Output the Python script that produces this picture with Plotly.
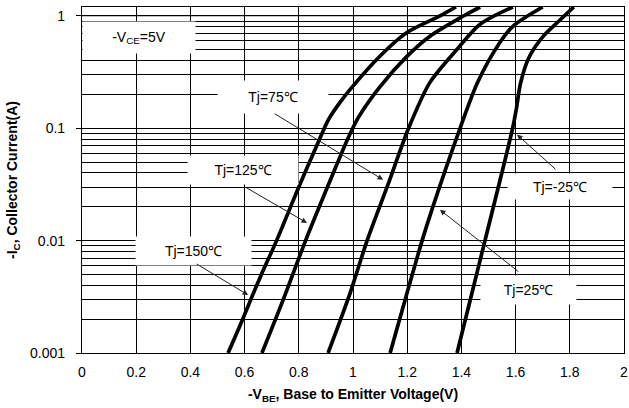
import plotly.graph_objects as go
import math

# Data (V_BE in volts, I_C in amperes)
v_150 = [0.539, 0.593, 0.623, 0.662, 0.718, 0.800, 0.866, 0.910, 0.952, 0.995, 1.100, 1.199, 1.321, 1.380]
i_150 = [0.001, 0.002, 0.003, 0.005, 0.010, 0.030, 0.070, 0.120, 0.170, 0.230, 0.440, 0.711, 1.000, 1.200]

v_125 = [0.664, 0.743, 0.825, 0.912, 0.980, 1.020, 1.100, 1.199, 1.284, 1.406, 1.469]
i_125 = [0.001, 0.003, 0.010, 0.0326, 0.080, 0.125, 0.235, 0.436, 0.659, 0.993, 1.200]

v_75 = [0.908, 0.989, 1.052, 1.130, 1.205, 1.284, 1.384, 1.469, 1.590]
i_75 = [0.001, 0.0034, 0.010, 0.032, 0.100, 0.256, 0.505, 0.843, 1.200]

v_25 = [1.137, 1.196, 1.255, 1.291, 1.395, 1.460, 1.542, 1.592, 1.700]
i_25 = [0.001, 0.0032, 0.010, 0.0188, 0.100, 0.257, 0.580, 0.815, 1.200]

v_m25 = [1.384, 1.436, 1.487, 1.589, 1.603, 1.618, 1.648, 1.700, 1.760, 1.815]
i_m25 = [0.001, 0.0032, 0.010, 0.100, 0.150, 0.250, 0.420, 0.650, 0.900, 1.200]

x_ticks = [0, 0.2, 0.4, 0.6, 0.8, 1.0, 1.2, 1.4, 1.6, 1.8, 2.0]
y_tickvals = [0.001, 0.01, 0.1, 1]
y_ticktext = ["0.001", "0.01", "0.1", "1"]

FONT = "Arial, Liberation Sans, sans-serif"

fig = go.Figure()
for vv, ii in [(v_150, i_150), (v_125, i_125), (v_75, i_75), (v_25, i_25), (v_m25, i_m25)]:
    fig.add_trace(go.Scatter(x=vv, y=ii, mode="lines",
                             line=dict(color="black", width=3.7, shape="spline", smoothing=0.8),
                             showlegend=False, hoverinfo="skip", cliponaxis=True))

fig.update_layout(
    width=629, height=408,
    margin=dict(l=82, r=5, t=7, b=55, autoexpand=False),
    paper_bgcolor="white", plot_bgcolor="white",
    font=dict(family=FONT, size=14, color="black"),
    showlegend=False,
)
fig.update_xaxes(
    range=[0, 2], tickvals=x_ticks, showgrid=True, gridcolor="black", gridwidth=1.2,
    showline=True, mirror=True, linecolor="black", linewidth=1.2, zeroline=False,
    ticks="", ticklabelstandoff=6, tickfont=dict(size=14, color="black"), automargin=False,
    title=dict(text="<b>-V<sub>BE</sub>, Base to Emitter Voltage(V)</b>",
               font=dict(size=14, color="black"), standoff=10),
)
fig.update_yaxes(
    type="log", range=[-3, math.log10(1.2)], tickvals=y_tickvals, ticktext=y_ticktext,
    showgrid=True, gridcolor="black", gridwidth=1.2,
    minor=dict(dtick="D1", showgrid=True, gridcolor="black", gridwidth=1.2, ticks=""),
    showline=True, mirror=True, linecolor="black", linewidth=1.2, zeroline=False,
    ticks="outside", ticklen=5, tickcolor="black", ticklabelstandoff=8, automargin=False,
    tickfont=dict(size=14, color="black"),
    title=dict(text="<b>-I<sub>C</sub>, Collector Current(A)</b>",
               font=dict(size=14, color="black"), standoff=9),
)

fig.add_shape(type="line", xref="paper", x0=0, x1=1, yref="y", y0=1, y1=1,
              line=dict(color="#b0b0b0", width=1.5), layer="below")

labels = [
    ("-V<sub>CE</sub>=5V", 0.210, -0.190, 112, 31),
    ("Tj=75℃", 0.705, -0.726, 110, 32),
    ("Tj=125℃", 0.594, -1.369, 110, 28),
    ("Tj=150℃", 0.413, -2.092, 115, 28),
    ("Tj=25℃", 1.649, -2.440, 95, 28),
    ("Tj=-25℃", 1.764, -1.520, 104, 25),
]
for txt, x, y, w, h in labels:
    fig.add_annotation(x=x, y=y, xref="x", yref="y", text=txt, showarrow=False,
                       bgcolor="white", width=w, height=h, borderpad=0,
                       font=dict(size=14, color="black", family=FONT))

arrows = [
    (1.111, -1.458, -110, -67),
    (0.830, -1.842, -62, -36),
    (0.613, -2.484, -53, -32),
    (1.321, -1.726, 80, 63),
    (1.605, -1.056, 40, 36),
]
for x, y, ax, ay in arrows:
    fig.add_annotation(x=x, y=y, xref="x", yref="y", text="", showarrow=True,
                       ax=ax, ay=ay, axref="pixel", ayref="pixel",
                       arrowhead=2, arrowsize=1.1, arrowwidth=1, arrowcolor="#222")

fig.write_html("out.html", config={"displayModeBar": False},
               post_script="document.body.style.margin='0';")
